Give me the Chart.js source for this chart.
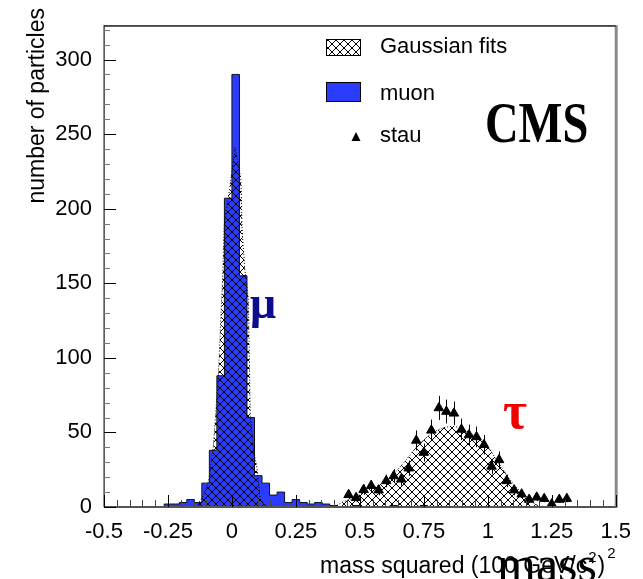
<!DOCTYPE html>
<html>
<head>
<meta charset="utf-8">
<title>mass squared</title>
<script src="https://cdn.jsdelivr.net/npm/chart.js@4.4.1/dist/chart.umd.min.js"></script>
<style>
  body { margin: 0; background: #fff; }
  #wrap { width: 643px; height: 579px; position: relative; }
</style>
</head>
<body>
<div id="wrap"><canvas id="massChart"></canvas></div>
<script>
// 68 bins between -0.5 and 1.5
const binLow = -0.5
const binWidth = 2 / 68

// muon entries, one per bin
const muonCounts = [
  0, 0, 0, 0, 0, 0, 0, 0, 2, 2,
  3, 5, 3, 16, 38, 88, 207, 290, 155, 60,
  21, 16, 8, 10, 3, 5, 3, 2, 3, 2,
  1, 0, 0, 1, 0, 0, 0, 0, 1, 0,
  0, 0, 1, 0, 0, 0, 0, 0, 0, 0,
  0, 0, 0, 0, 0, 0, 0, 0, 0, 0,
  0, 0, 0, 0, 0, 0, 0, 0
]

// stau entries start at bin 32
const stauFirstBin = 32
const stauCounts = [8.2, 6.2, 11.6, 14.3, 11.3, 17.5, 20.8, 18.6, 26, 44.6,
  36.5, 51.4, 66.4, 64, 62.8, 52, 48.3, 47, 41.7, 27.2,
  31.6, 17.5, 11.3, 8.6, 5, 6.5, 5.6, 2, 5, 5.6]
const stauErrors = [2.9, 2.5, 3.4, 3.8, 3.4, 4.2, 4.6, 4.3, 5.1, 6.7,
  6, 7.2, 8.1, 8, 7.9, 7.2, 6.9, 6.9, 6.5, 5.2,
  5.6, 4.2, 3.4, 2.9, 2.2, 2.5, 2.4, 1.4, 2.2, 2.4]

// gaussian fit curves
const muonFitX = [-0.14, -0.11, -0.09, -0.073, -0.053, -0.036, -0.03, -0.01, 0.012, 0.035, 0.04, 0.05, 0.064, 0.072, 0.085, 0.098, 0.11, 0.125, 0.14]
const muonFitY = [0, 8, 18, 40, 88, 155, 190, 212, 241, 220, 185, 160, 140, 61, 38, 26, 6, 2, 0]
const stauFitX = [0.40, 0.43, 0.472, 0.54, 0.604, 0.666, 0.732, 0.797, 0.862, 0.927, 0.992, 1.044, 1.096, 1.148, 1.19, 1.23]
const stauFitY = [0, 3, 6, 12, 17.5, 28.6, 42, 51, 54, 50, 42, 29, 16.4, 6.7, 1.5, 0]

const xTicks = [-0.5, -0.25, 0, 0.25, 0.5, 0.75, 1, 1.25, 1.5]
const yTicks = [0, 50, 100, 150, 200, 250, 300]

const SANS = '"Liberation Sans", Arial, sans-serif'
const SERIF = '"Liberation Serif", "Times New Roman", serif'
const MUON_BLUE = '#2b3cff'

const binCenter = k => binLow + (k + 0.5) * binWidth

const muonPoints = muonCounts.map((n, k) => ({x: binCenter(k), y: n}))
const stauPoints = stauCounts.map((n, i) => ({x: binCenter(stauFirstBin + i), y: n}))
const muonFit = muonFitX.map((x, i) => ({x: x, y: muonFitY[i]}))
const stauFit = stauFitX.map((x, i) => ({x: x, y: stauFitY[i]}))

// cross hatch fill
function makeHatch() {
    const c = document.createElement('canvas')
    c.width = 8
    c.height = 8
    const g = c.getContext('2d')
    g.strokeStyle = '#000'
    g.lineWidth = 1
    g.beginPath()
    g.moveTo(-1, -1); g.lineTo(9, 9)
    g.moveTo(9, -1); g.lineTo(-1, 9)
    g.stroke()
    return g.createPattern(c, 'repeat')
}
const hatch = makeHatch()

const decorations = {
    id: 'decorations',
    afterDatasetsDraw(chart) {
        const ctx = chart.ctx
        const xs = chart.scales.x, ys = chart.scales.y
        // stau error bars
        ctx.save()
        ctx.strokeStyle = '#000'
        ctx.lineWidth = 1
        stauPoints.forEach((p, i) => {
            const px = Math.round(xs.getPixelForValue(p.x)) + 0.5
            ctx.beginPath()
            ctx.moveTo(px, ys.getPixelForValue(p.y - stauErrors[i]))
            ctx.lineTo(px, ys.getPixelForValue(p.y + stauErrors[i]))
            ctx.stroke()
        })
        ctx.restore()
    },
    afterDraw(chart) {
        const ctx = chart.ctx
        const a = chart.chartArea
        const xs = chart.scales.x, ys = chart.scales.y
        ctx.save()

        // frame
        ctx.fillStyle = '#8a8a8a'
        ctx.fillRect(a.right - 1, a.top, 3, a.bottom - a.top + 1)
        ctx.fillStyle = '#555'
        ctx.fillRect(a.left, a.bottom - 1, a.right - a.left, 2)
        ctx.fillStyle = '#1a1a1a'
        ctx.fillRect(a.left, a.top, a.right - a.left, 1.5)
        ctx.fillRect(a.left - 0.5, a.top, 1.2, a.bottom - a.top)

        // y ticks, inward
        ctx.lineWidth = 1
        for (let v = 0; v <= 320; v += 10) {
            const py = Math.round(ys.getPixelForValue(v)) + 0.5
            const major = v % 50 === 0
            ctx.strokeStyle = major ? '#000' : '#777'
            ctx.beginPath()
            ctx.moveTo(a.left, py)
            ctx.lineTo(a.left + (major ? 12 : 6), py)
            ctx.stroke()
        }
        // x ticks, inward
        for (let i = 0; i <= 40; i++) {
            const v = -0.5 + i * 0.05
            const px = Math.round(xs.getPixelForValue(v)) + 0.5
            const major = i % 5 === 0
            ctx.strokeStyle = major ? '#000' : '#444'
            ctx.beginPath()
            ctx.moveTo(px, a.bottom)
            ctx.lineTo(px, a.bottom - (major ? 12 : 7))
            ctx.stroke()
        }

        // axis titles
        ctx.fillStyle = '#000'
        ctx.font = '23px ' + SANS
        ctx.textBaseline = 'alphabetic'
        ctx.save()
        ctx.translate(44, 8)
        ctx.rotate(-Math.PI / 2)
        ctx.textAlign = 'right'
        ctx.fillText('number of particles', 0, 0)
        ctx.restore()

        ctx.textAlign = 'left'
        let tx = 320
        const ty = 573
        const main = 'mass squared (100 GeV/c'
        ctx.fillText(main, tx, ty)
        tx += ctx.measureText(main).width
        ctx.font = '15px ' + SANS
        ctx.fillText('2', tx + 1, ty - 11)
        tx += ctx.measureText('2').width + 2
        ctx.font = '23px ' + SANS
        ctx.fillText(')', tx, ty)
        tx += ctx.measureText(')').width
        ctx.font = '15px ' + SANS
        ctx.fillText('2', tx + 2, ty - 15)

        // legend
        ctx.fillStyle = hatch
        ctx.fillRect(326, 39, 34, 16)
        ctx.strokeStyle = '#000'
        ctx.lineWidth = 1
        ctx.strokeRect(326.5, 39.5, 34, 16)
        ctx.fillStyle = MUON_BLUE
        ctx.fillRect(326, 82, 34, 19)
        ctx.strokeRect(326.5, 82.5, 34, 19)
        ctx.fillStyle = '#000'
        ctx.beginPath()
        ctx.moveTo(356, 132)
        ctx.lineTo(360.5, 141)
        ctx.lineTo(351.5, 141)
        ctx.closePath()
        ctx.fill()
        ctx.font = '22px ' + SANS
        ctx.fillText('Gaussian fits', 380, 53)
        ctx.fillText('muon', 380, 100)
        ctx.fillText('stau', 380, 142)

        // CMS label
        ctx.save()
        ctx.translate(485, 142)
        ctx.scale(0.83, 1)
        ctx.font = 'bold 56px ' + SERIF
        ctx.fillText('CMS', 0, 0)
        ctx.restore()

        // particle symbols
        ctx.fillStyle = '#0c0c8e'
        ctx.font = 'bold 46px ' + SERIF
        ctx.fillText('μ', 250, 318)
        ctx.fillStyle = '#f20000'
        ctx.font = 'bold 52px ' + SERIF
        ctx.fillText('τ', 503, 428)

        // large overlapping word at the bottom
        ctx.fillStyle = '#000'
        ctx.font = '50px ' + SERIF
        ctx.fillText('mass', 497, 581)

        ctx.restore()
    }
}

const config = {
    type: 'line',
    data: {
        datasets: [{
            label: 'stau',
            data: stauPoints,
            showLine: false,
            pointStyle: 'triangle',
            pointRadius: 5.5,
            pointBackgroundColor: '#000',
            pointBorderColor: '#000',
            pointBorderWidth: 1,
            order: 0
        }, {
            label: 'muon fit',
            data: muonFit,
            fill: 'origin',
            backgroundColor: hatch,
            borderColor: '#000',
            borderWidth: 1,
            borderDash: [1, 2],
            pointRadius: 0,
            order: 1
        }, {
            label: 'stau fit',
            data: stauFit,
            fill: 'origin',
            backgroundColor: hatch,
            borderColor: '#000',
            borderWidth: 1,
            borderDash: [1, 2],
            pointRadius: 0,
            cubicInterpolationMode: 'monotone',
            order: 1
        }, {
            label: 'muon',
            data: muonPoints,
            stepped: 'middle',
            fill: 'origin',
            backgroundColor: MUON_BLUE,
            borderColor: '#111',
            borderWidth: 1,
            pointRadius: 0,
            order: 2
        }]
    },
    options: {
        responsive: true,
        maintainAspectRatio: false,
        animation: false,
        layout: {padding: {top: 9, right: 26, left: 0, bottom: 0}},
        plugins: {legend: {display: false}, tooltip: {enabled: false}},
        scales: {
            x: {
                type: 'linear',
                min: -0.5,
                max: 1.5,
                afterBuildTicks: s => { s.ticks = xTicks.map(v => ({value: v})) },
                grid: {display: false, drawTicks: false},
                border: {display: false},
                ticks: {
                    padding: 12,
                    color: '#000',
                    maxRotation: 0,
                    autoSkip: false,
                    font: {family: SANS, size: 22},
                    callback: v => String(v)
                },
                afterFit: s => { s.height = 72 }
            },
            y: {
                min: 0,
                max: 323,
                afterBuildTicks: s => { s.ticks = yTicks.map(v => ({value: v})) },
                grid: {display: false, drawTicks: false},
                border: {display: false},
                ticks: {
                    padding: 12,
                    color: '#000',
                    font: {family: SANS, size: 22},
                    callback: v => String(v)
                },
                afterFit: s => { s.width = 104 }
            }
        }
    },
    plugins: [decorations]
}

var massChart = new Chart(document.getElementById('massChart'), config)
</script>
</body>
</html>
